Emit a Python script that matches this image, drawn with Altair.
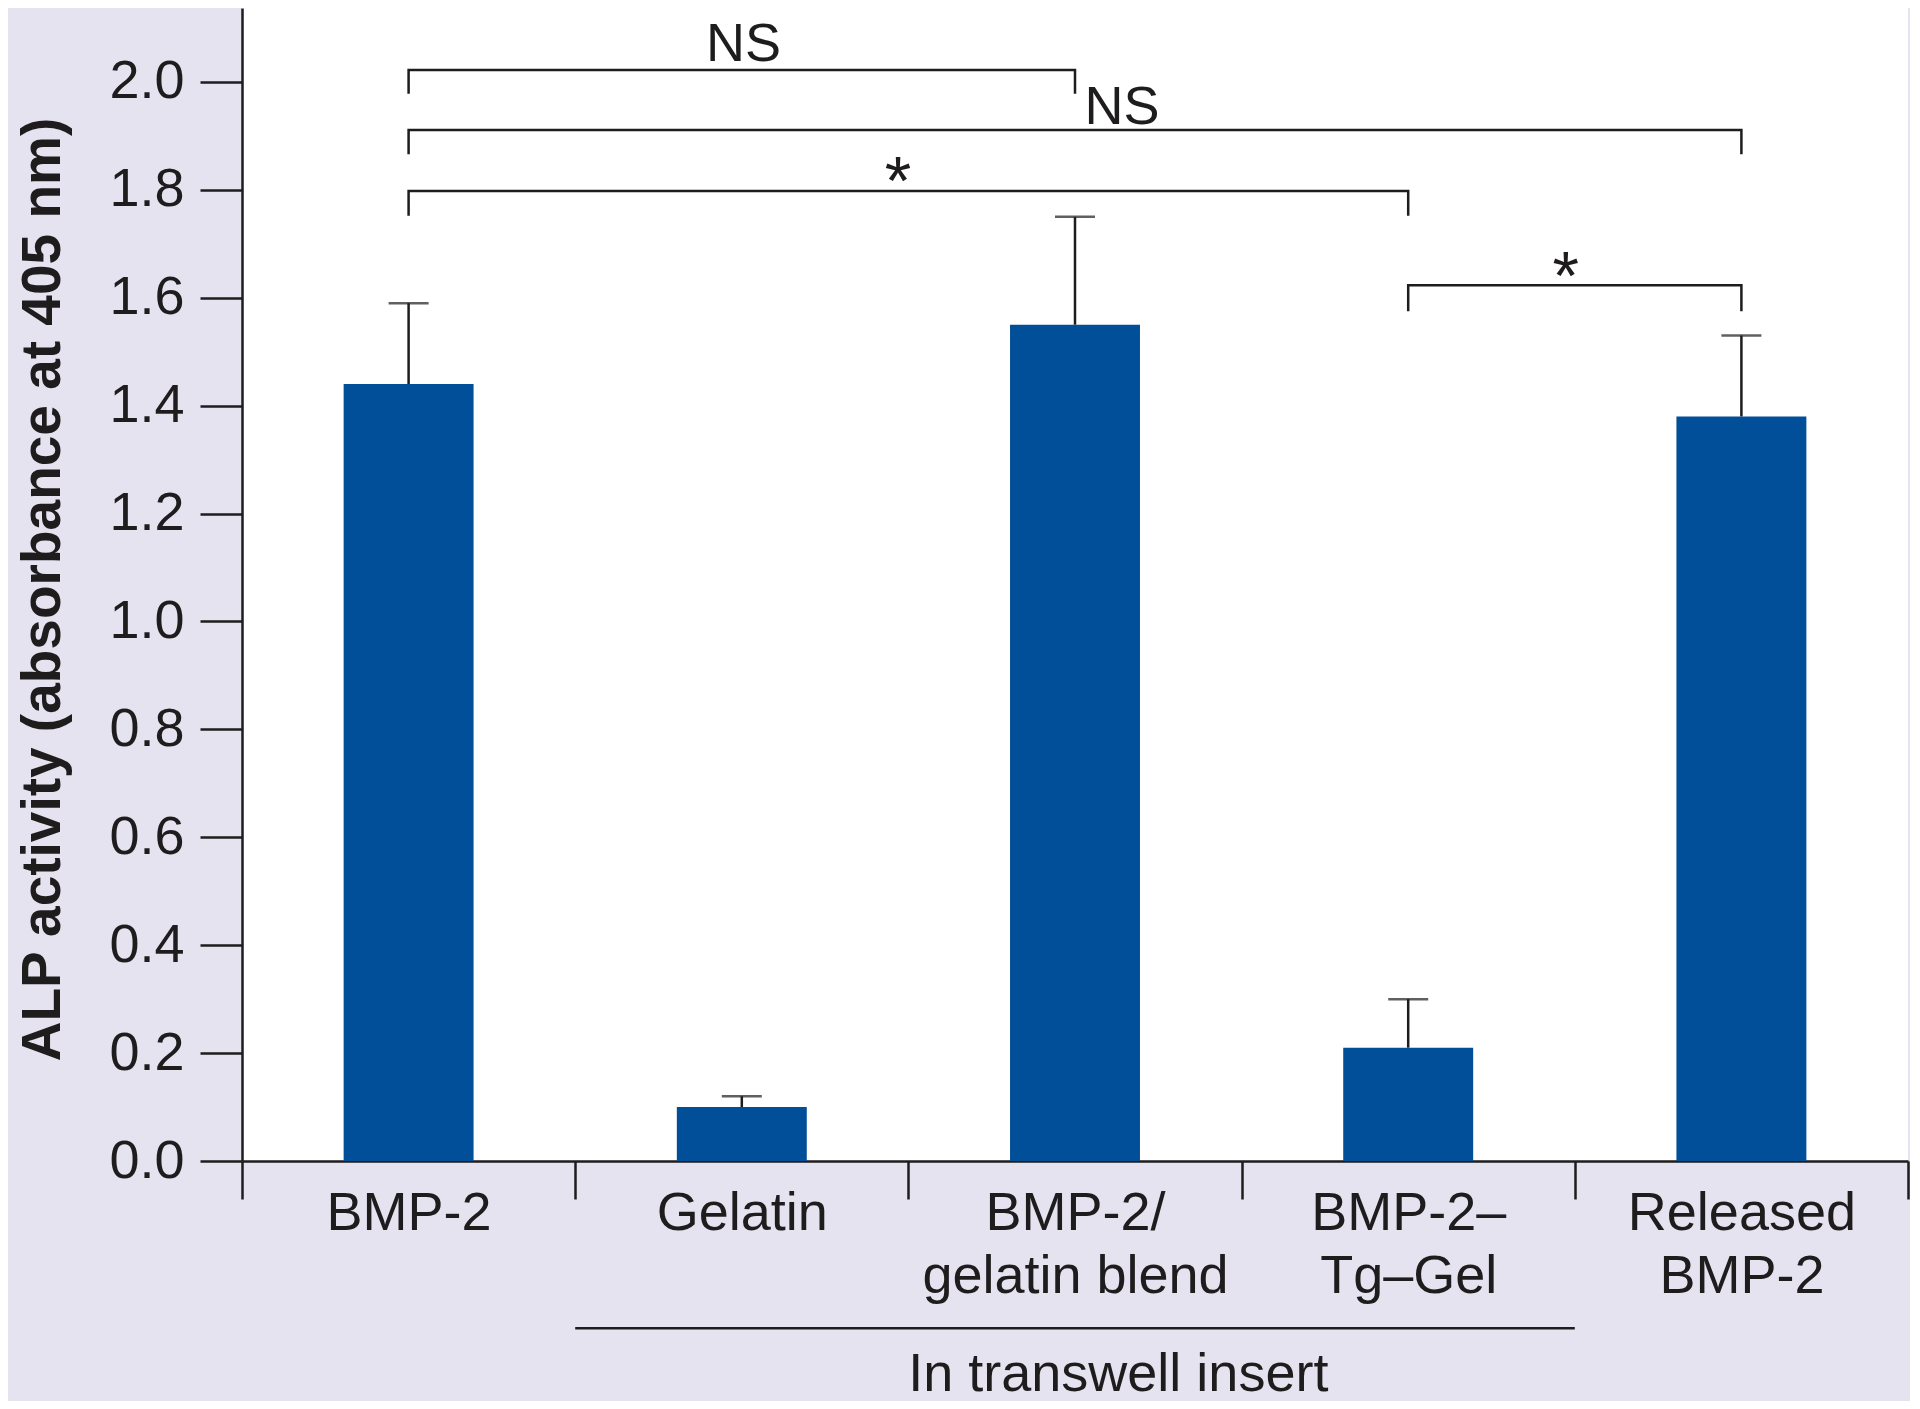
import altair as alt
import pandas as pd

# ---------------- data ----------------
categories = ['BMP-2', 'Gelatin', 'BMP-2/|gelatin blend', 'BMP-2–|Tg–Gel', 'Released|BMP-2']
means = [1.44, 0.10, 1.55, 0.21, 1.38]
upper = [1.59, 0.12, 1.75, 0.30, 1.53]

# significance brackets
br_left = ['BMP-2', 'BMP-2', 'BMP-2', 'BMP-2–|Tg–Gel']
br_right = ['BMP-2/|gelatin blend', 'Released|BMP-2', 'BMP-2–|Tg–Gel', 'Released|BMP-2']
br_top = [2.022, 1.911, 1.798, 1.623]
br_foot = [1.978, 1.866, 1.752, 1.575]
br_text = ['NS', 'NS', '*', '*']
br_text_x = [1.505, 2.641, 1.969, 3.973]
br_text_y = [2.038, 1.922, 1.773, 1.597]
br_text_size = [54, 54, 68, 68]

# group annotation below the axis
group_start = [1.0]
group_end = [4.0]
group_y = [-0.31]
group_label = ['In transwell insert']
group_label_x = [2.63]
group_label_y = [-0.426]

Y_TICKS = [0.0, 0.2, 0.4, 0.6, 0.8, 1.0, 1.2, 1.4, 1.6, 1.8, 2.0]
Y_DOMAIN = [0, 2.137]

FONT = 'Liberation Sans'
INK = '#1e1c1d'
BAR = '#004f98'

bars_df = pd.DataFrame({'cat': categories, 'mean': means, 'upper': upper})

rows = []
for i in range(len(br_left)):
    rows += [
        {'b': i, 'o': 0, 'cat': br_left[i], 'y': br_foot[i]},
        {'b': i, 'o': 1, 'cat': br_left[i], 'y': br_top[i]},
        {'b': i, 'o': 2, 'cat': br_right[i], 'y': br_top[i]},
        {'b': i, 'o': 3, 'cat': br_right[i], 'y': br_foot[i]},
    ]
br_df = pd.DataFrame(rows)
br_lab_df = pd.DataFrame({'t': br_text, 'x': br_text_x, 'y': br_text_y, 's': br_text_size})
grp_df = pd.DataFrame({'x': group_start, 'x2': group_end, 'y': group_y})
grp_lab_df = pd.DataFrame({'t': group_label, 'x': group_label_x, 'y': group_label_y})

yscale = alt.Scale(domain=Y_DOMAIN, nice=False, zero=False)

x_axis = alt.Axis(
    title=None, tickBand='extent', labelExpr="split(datum.label, '|')",
    labelFont=FONT, labelFontSize=54, labelColor=INK, labelLineHeight=63,
    labelPadding=-13, labelBaseline='top', labelAngle=0, labelLimit=1000,
    tickSize=38, tickWidth=2.5, tickColor=INK,
    domainWidth=2.5, domainColor=INK, grid=False,
)
xenc = alt.X('cat:N', sort=categories,
             scale=alt.Scale(domain=categories, paddingInner=0, paddingOuter=0),
             axis=x_axis)

y_axis = alt.Axis(
    title='ALP activity (absorbance at 405 nm)', values=Y_TICKS, format='.1f',
    labelFont=FONT, labelFontSize=54, labelColor=INK, labelPadding=16,
    tickSize=42, tickWidth=2.5, tickColor=INK,
    domainWidth=2.5, domainColor=INK, grid=False,
    titleFont=FONT, titleFontSize=55, titleFontWeight='bold', titleColor=INK,
    titleX=-200, titleY=581, titleAngle=-90, titleAlign='center', titleBaseline='middle',
)

bars = alt.Chart(bars_df).mark_bar(color=BAR, width=alt.RelativeBandSize(0.39)).encode(
    x=xenc,
    y=alt.Y('mean:Q', scale=yscale, axis=y_axis),
)
err = alt.Chart(bars_df).mark_rule(color=INK, strokeWidth=2.5).encode(
    x=xenc,
    y=alt.Y('mean:Q', scale=yscale),
    y2='upper:Q',
)
cap = alt.Chart(bars_df).mark_tick(color=INK, size=40, thickness=2.5).encode(
    x=xenc,
    y=alt.Y('upper:Q', scale=yscale),
)
brackets = alt.Chart(br_df).mark_line(color=INK, strokeWidth=2.5, strokeCap='butt').encode(
    x=xenc,
    y=alt.Y('y:Q', scale=yscale),
    detail='b:N',
    order='o:Q',
)
inner = alt.layer(bars, err, cap, brackets)

xq = alt.Scale(domain=[0, 5], nice=False, zero=False)
br_labels = alt.Chart(br_lab_df).mark_text(
    font=FONT, color=INK, align='center', baseline='alphabetic'
).encode(
    x=alt.X('x:Q', scale=xq, axis=None),
    y=alt.Y('y:Q', scale=yscale),
    text='t:N',
    size=alt.Size('s:Q', scale=None, legend=None),
)
grp_line = alt.Chart(grp_df).mark_rule(color=INK, strokeWidth=2.5).encode(
    x=alt.X('x:Q', scale=xq, axis=None),
    x2='x2:Q',
    y=alt.Y('y:Q', scale=yscale),
)
grp_text = alt.Chart(grp_lab_df).mark_text(
    font=FONT, fontSize=54, color=INK, align='center', baseline='alphabetic'
).encode(
    x=alt.X('x:Q', scale=xq, axis=None),
    y=alt.Y('y:Q', scale=yscale),
    text='t:N',
)
annot = alt.layer(br_labels, grp_line, grp_text)

chart = alt.layer(inner, annot).resolve_scale(x='independent').properties(
    width=1666, height=1153,
    background='#e6e3f0',
    padding={'left': 234, 'top': 0, 'right': 2, 'bottom': 240},
    autosize=alt.AutoSizeParams(type='none'),
).configure_view(fill='white', strokeWidth=0)

chart.save('out.html', embed_options={'renderer': 'svg', 'actions': False})
